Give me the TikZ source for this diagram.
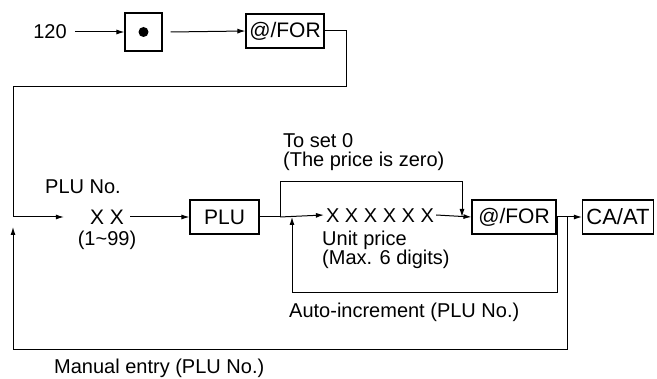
\documentclass[tikz,border=0pt]{standalone}
\usepackage{fontspec}
\setmainfont{Liberation Sans}
\usetikzlibrary{arrows.meta}
\begin{document}
\begin{tikzpicture}[x=1pt,y=-1pt,
  txt/.style={inner sep=0pt,font=\fontsize{20}{19}\selectfont},
  lbl/.style={txt,anchor=west,align=left},
  keybox/.style={draw,line width=1.1pt,minimum height=34pt,inner sep=2pt,font=\fontsize{21}{23}\selectfont},
  conn/.style={line width=1pt,-{Latex[length=8pt,width=5pt]}},
  wire/.style={line width=1pt}]
\useasboundingbox (0,0) rectangle (657,379);
% top row
\node[txt] (n120) at (50,32) {120};
\node[keybox,minimum width=37pt,minimum height=38pt] (dot) at (143.5,32) {};
\fill (dot.center) circle (5pt);
\node[keybox,minimum width=78pt] (at1) at (285,31) {@/FOR};
\draw[conn] (n120.east) ++(8,0) coordinate (s120) -- (dot.west);
\draw[conn] (dot.east) ++(8,0) coordinate (sdot) -- (at1.west);
% main row
\node[txt,font=\fontsize{21}{23}\selectfont] (xx) at (107,217) {X X};
\node[lbl] (pluno) at (45,187) {PLU No.};
\node[txt] (range) at (107,240) {(1\textasciitilde99)};
\node[keybox,minimum width=69pt] (plu) at (224.5,217) {PLU};
\node[txt] (x6) at (380,216) {X X X X X X};
\node[lbl] (unit) at (322,249.5) {Unit price\\(Max. 6 digits)};
\node[lbl] (set0) at (283,152.5) {To set 0\\(The price is zero)};
\node[keybox,minimum width=84pt] (at2) at (514,217) {@/FOR};
\node[keybox,minimum width=71pt,font=\fontsize{22}{24}\selectfont] (caat) at (618,217) {CA/AT};
\node[lbl] (auto) at (289,312) {Auto-increment (PLU No.)};
\node[lbl] (manual) at (54,368) {Manual entry (PLU No.)};
% coordinates
\coordinate (r1) at (346,31);
\coordinate (r2) at (346,87);
\coordinate (l1) at (13,87);
\coordinate (l2) at (13,217);
\coordinate (br) at (280,217);
\coordinate (bt) at (462,182);
\coordinate (mj) at (462,217);
\coordinate (ai) at (557,217);
\coordinate (ab) at (557,293);
\coordinate (ae) at (292,217);
\coordinate (me) at (567,217);
\coordinate (mb) at (567,350);
\coordinate (mt) at (13,227);
% connectors
\draw[wire] (at1.east) -- (r1) -- (r2) -- (l1) -- (l2);
\draw[conn] (l2) -- ([xshift=-26pt]xx.west);
\draw[conn] ([xshift=6pt]xx.east) -- (plu.west);
\draw[wire] (plu.east) -- (br);
\draw[conn] (br) -- ([xshift=-2pt,yshift=1pt]x6.west);
\draw[conn] (br) |- (bt) -- (mj);
\draw[conn] ([xshift=2pt,yshift=1pt]x6.east) -- (at2.west);
\draw[conn] (at2.east) -- (caat.west);
\draw[conn] (ai) -- (ab) -| (ae);
\draw[conn] (me) -- (mb) -| (mt);
\end{tikzpicture}
\end{document}
